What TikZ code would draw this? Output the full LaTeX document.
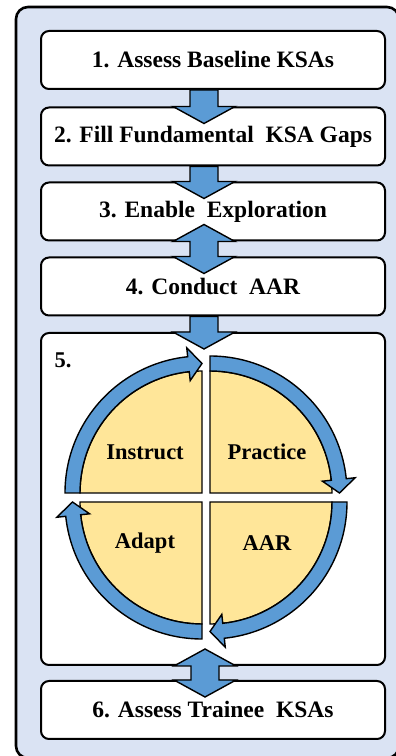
\documentclass[tikz,border=0pt]{standalone}
\usepackage{fontspec}
\setmainfont{Liberation Serif}
\usetikzlibrary{calc}
\definecolor{bgblue}{HTML}{DAE3F3}
\definecolor{arrblue}{HTML}{5B9BD5}
\definecolor{quadyel}{HTML}{FFE699}
\tikzset{
  stepbox/.style={draw=black, line width=2pt, fill=white, rounded corners=8pt,
    minimum width=344pt, minimum height=58pt, inner sep=0pt,
    font=\bfseries\fontsize{23.5}{27}\selectfont},
  blk/.style={draw=black, fill=arrblue, line width=1.4pt, line join=miter},
  quad/.style={draw=black, fill=quadyel, line width=1.4pt},
  lbl/.style={font=\bfseries\fontsize{22.5}{26}\selectfont, inner sep=0pt},
}
% block arrow pointing down, from node #1 to node #2, at x = #3
\newcommand\blkdown[3]{\draw[blk] let \p1=(#1.south), \p2=(#2.north) in
  (#3-14pt,\y1) -- (#3-14pt,\y2) -- (#3-31pt,\y2) -- (#3pt,\y2-17pt) --
  (#3+31pt,\y2) -- (#3+14pt,\y2) -- (#3+14pt,\y1) -- cycle;}
% double block arrow between node #1 (above) and node #2 (below)
\newcommand\blkboth[3]{\draw[blk] let \p1=(#1.south), \p2=(#2.north) in
  (#3-14pt,\y1) -- (#3-14pt,\y2) -- (#3-31pt,\y2) -- (#3pt,\y2-17pt) --
  (#3+31pt,\y2) -- (#3+14pt,\y2) -- (#3+14pt,\y1) -- (#3+31pt,\y1) --
  (#3pt,\y1+17pt) -- (#3-31pt,\y1) -- cycle;}
% curved arrow around centre #1, clockwise from angle #2 to tip angle #3
\newcommand\arcarrow[3]{\draw[blk]
  ($(#1)+(#2:137)$) arc[start angle=#2, end angle=#3+6, radius=137pt] --
  ($(#1)+(#3+6:146)$) -- ($(#1)+(#3:129.5)$) -- ($(#1)+(#3+6:113)$) --
  ($(#1)+(#3+6:122)$) arc[start angle=#3+6, end angle=#2, radius=122pt] -- cycle;}
\begin{document}
\begin{tikzpicture}[x=1pt, y=1pt]
\useasboundingbox (0,0) rectangle (396,756);
\draw[line width=2.6pt, fill=bgblue, rounded corners=12pt] (16,-2) rectangle (399,749);

\node[stepbox] (b1) at (213,696) {1. Assess Baseline KSAs};
\node[stepbox] (b2) at (213,619.5) {2. Fill Fundamental\ \ KSA Gaps};
\node[stepbox] (b3) at (213,544.5) {3. Enable\ \ Exploration};
\node[stepbox] (b4) at (213,469.5) {4. Conduct\ \ AAR};
\node[stepbox, minimum height=332pt] (b5) at (213,257) {};
\node[stepbox] (b6) at (213,46) {6. Assess Trainee\ \ KSAs};
\node[lbl] (n5) at (63,396) {5.};

\coordinate (cTL) at (202,263);
\coordinate (cTR) at (210,263);
\coordinate (cBR) at (210,254);
\coordinate (cBL) at (202,254);

\draw[quad] (cTL) -- ++(180:122) arc[start angle=180, end angle=90, radius=122pt] -- cycle;
\draw[quad] (cTR) -- ++(90:122) arc[start angle=90, end angle=0, radius=122pt] -- cycle;
\draw[quad] (cBR) -- ++(0:122) arc[start angle=0, end angle=-90, radius=122pt] -- cycle;
\draw[quad] (cBL) -- ++(270:122) arc[start angle=270, end angle=180, radius=122pt] -- cycle;

\arcarrow{cTL}{180}{90}
\arcarrow{cTR}{90}{0}
\arcarrow{cBR}{360}{270}
\arcarrow{cBL}{270}{180}

\node[lbl] (instruct) at (145,304) {Instruct};
\node[lbl] (practice) at (267,304) {Practice};
\node[lbl] (adapt) at (145,213) {Adapt};
\node[lbl] (aar) at (267,213) {AAR};

\blkdown{b1}{b2}{204}
\blkdown{b2}{b3}{204}
\blkboth{b3}{b4}{204}
\blkdown{b4}{b5}{204}
\blkboth{b5}{b6}{205}
\end{tikzpicture}
\end{document}
